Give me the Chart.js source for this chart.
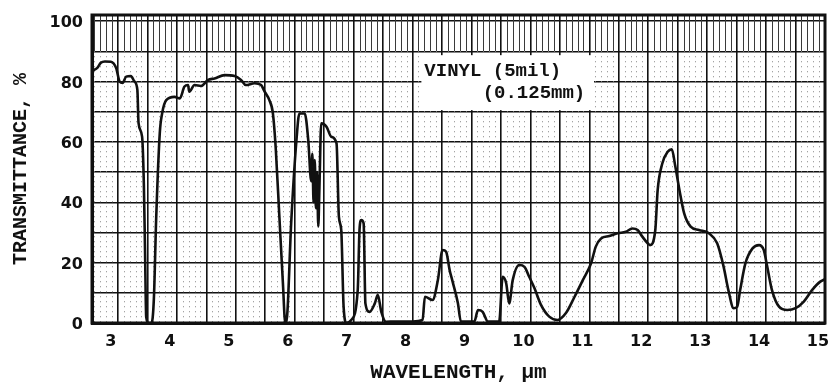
<!DOCTYPE html>
<html>
<head>
<meta charset="utf-8">
<script src="https://cdn.jsdelivr.net/npm/chart.js@4.4.1/dist/chart.umd.min.js"></script>
<style>
  html, body { margin: 0; padding: 0; background: #fff; }
  canvas { display: block; }
</style>
</head>
<body>
<canvas id="irChart" width="834" height="385"></canvas>
<script>
(function () {
    'use strict';

    // ── Spectrum trace: wavelength (µm) vs transmittance (%) ──────────────────
    const wavelengths = [
        2.56, 2.65, 2.71, 2.78, 2.88, 2.97, 3.03, 3.08, 3.14, 3.22, 3.28, 3.33,
        3.35, 3.41, 3.44, 3.46, 3.48, 3.52, 3.57, 3.61, 3.65, 3.71, 3.75, 3.82,
        3.96, 4.05, 4.13, 4.19, 4.21, 4.30, 4.41, 4.53, 4.64, 4.81, 4.98, 5.09,
        5.17, 5.32, 5.43, 5.49, 5.57, 5.63, 5.68, 5.74, 5.80, 5.84, 5.87, 5.94,
        6.03, 6.08, 6.17, 6.23, 6.28, 6.30, 6.32, 6.34, 6.36, 6.38, 6.40, 6.42,
        6.45, 6.54, 6.62, 6.71, 6.75, 6.79, 6.83, 6.88, 6.96, 7.07, 7.10, 7.13,
        7.17, 7.20, 7.27, 7.36, 7.41, 7.47, 7.55, 7.70, 8.00, 8.17, 8.21, 8.34,
        8.43, 8.51, 8.57, 8.63, 8.68, 8.77, 8.82, 9.05, 9.11, 9.19, 9.28, 9.47,
        9.53, 9.59, 9.64, 9.70, 9.81, 9.90, 9.98, 10.07, 10.18, 10.32, 10.46, 10.60,
        10.75, 10.89, 11.03, 11.11, 11.20, 11.34, 11.48, 11.62, 11.73, 11.82, 11.90, 11.99,
        12.03, 12.12, 12.16, 12.24, 12.33, 12.40, 12.46, 12.53, 12.61, 12.72, 12.86, 13.03,
        13.17, 13.28, 13.36, 13.45, 13.51, 13.56, 13.65, 13.77, 13.88, 13.96, 14.02, 14.10,
        14.22, 14.36, 14.50, 14.64, 14.78, 14.92, 15.00
    ];
    const transmittance = [
        83.5, 84.5, 86.2, 86.6, 86.5, 84.4, 79.9, 79.5, 81.6, 81.8, 80.0, 77.2,
        66.2, 61.7, 46.0, 24.0, 2.0, 0.0, 0.0, 8.0, 35.0, 62.8, 69.4, 73.8,
        74.9, 74.4, 78.3, 78.8, 76.6, 78.8, 78.5, 80.5, 81.0, 82.1, 81.8, 80.5,
        78.8, 79.4, 78.8, 76.6, 73.8, 69.4, 57.3, 35.2, 13.2, 0.0, 2.0, 33.0,
        60.6, 69.4, 69.4, 60.6, 47.0, 56.0, 40.0, 54.0, 38.0, 50.0, 32.0, 45.0,
        66.1, 65.0, 61.7, 59.5, 35.2, 30.8, 5.4, 0.0, 1.0, 11.0, 30.8, 34.1,
        33.0, 6.5, 3.7, 6.5, 9.3, 3.7, 0.4, 0.5, 0.5, 1.0, 8.7, 7.6,
        14.2, 24.2, 23.6, 17.5, 13.7, 6.5, 0.5, 0.5, 4.3, 3.7, 0.5, 0.5,
        15.3, 13.1, 6.5, 14.2, 19.2, 18.6, 15.3, 11.5, 6.0, 2.1, 1.0, 3.2,
        8.7, 14.2, 19.8, 25.3, 28.0, 28.8, 29.7, 30.2, 31.3, 30.8, 28.6, 26.4,
        25.8, 30.8, 44.0, 52.9, 56.7, 57.5, 51.8, 44.0, 36.3, 31.9, 30.8, 29.7,
        26.4, 18.6, 10.9, 4.9, 5.4, 10.9, 19.8, 24.7, 25.8, 24.2, 18.6, 10.9,
        5.4, 4.3, 4.9, 7.1, 10.9, 13.7, 14.5
    ];

    // ── Axis ticks ────────────────────────────────────────────────────────────
    const xGridTicks = [3, 3.5, 4, 4.5, 5, 5.5, 6, 6.5, 7, 7.5, 8, 8.5, 9, 9.5,
                        10, 10.5, 11, 11.5, 12, 12.5, 13, 13.5, 14, 14.5, 15];
    const yGridTicks = [0, 10, 20, 30, 40, 50, 60, 70, 80, 90, 100];

    const sampleLines = ['VINYL (5mil)', '(0.125mm)'];

    const INK = '#111';
    const monoBold = { family: '"Liberation Mono", "DejaVu Sans Mono", monospace', weight: 'bold' };

    // chart paper: fine rulings, dense header band, sample label, heavy frame
    const paperPlugin = {
        id: 'paper',
        beforeDatasetsDraw(chart) {
            const { ctx, chartArea: a, scales: { x, y } } = chart;
            const band = y.getPixelForValue(90);
            ctx.save();
            ctx.lineWidth = 1;
            for (let i = 26; i <= 150; i++) {
                if (i % 5 === 0) continue;
                const px = Math.round(x.getPixelForValue(i / 10)) + 0.5;
                if (px <= a.left + 1 || px >= a.right - 1) continue;
                ctx.setLineDash([]);
                ctx.strokeStyle = '#3a3a3a';
                ctx.beginPath();
                ctx.moveTo(px, a.top);
                ctx.lineTo(px, band);
                ctx.stroke();
                ctx.setLineDash([1, 4]);
                ctx.strokeStyle = '#888';
                ctx.beginPath();
                ctx.moveTo(px, band);
                ctx.lineTo(px, a.bottom);
                ctx.stroke();
            }
            ctx.setLineDash([]);

            // sample label panel
            const l = x.getPixelForValue(8.15), r = x.getPixelForValue(11.08);
            const t = y.getPixelForValue(88.7), b = y.getPixelForValue(70.5);
            ctx.fillStyle = '#fff';
            ctx.fillRect(l, t, r - l, b - t);
            ctx.fillStyle = INK;
            ctx.font = 'bold 19px ' + monoBold.family;
            ctx.textBaseline = 'alphabetic';
            ctx.textAlign = 'left';
            ctx.fillText(sampleLines[0], x.getPixelForValue(8.2), y.getPixelForValue(81.8));
            ctx.fillText(sampleLines[1], x.getPixelForValue(9.19), y.getPixelForValue(74.5));
            ctx.restore();
        },
        afterDatasetsDraw(chart) {
            const { ctx, chartArea: a } = chart;
            ctx.save();
            ctx.strokeStyle = INK;
            ctx.lineWidth = 3;
            ctx.strokeRect(a.left, a.top, a.right - a.left, a.bottom - a.top);
            ctx.restore();
        }
    };

    new Chart(document.getElementById('irChart'), {
        type: 'line',
        data: {
            datasets: [{
                data: wavelengths.map((w, i) => ({ x: w, y: transmittance[i] })),
                borderColor: INK,
                borderWidth: 2.6,
                pointRadius: 0,
                cubicInterpolationMode: 'monotone',
                fill: false,
            }]
        },
        options: {
            responsive: false,
            animation: false,
            layout: { padding: { top: 15, right: 9, bottom: 0, left: 0 } },
            plugins: {
                legend: { display: false },
                tooltip: { enabled: false },
            },
            scales: {
                x: {
                    type: 'linear',
                    min: 2.56,
                    max: 15,
                    afterFit: s => {
                        s.height = 62;
                        s.paddingLeft = 0;
                        s.paddingRight = 0;
                    },
                    afterBuildTicks: s => { s.ticks = xGridTicks.map(v => ({ value: v })); },
                    grid: { color: INK, lineWidth: 1.6, drawTicks: false },
                    border: { color: INK, width: 3 },
                    ticks: {
                        color: INK,
                        padding: 9,
                        labelOffset: -7,
                        maxRotation: 0,
                        autoSkip: false,
                        font: { family: '"DejaVu Sans", sans-serif', weight: 'bold', size: 16 },
                        callback: v => Number.isInteger(v) ? String(v) : ''
                    },
                    title: {
                        display: true,
                        text: 'WAVELENGTH, µm',
                        color: INK,
                        padding: { top: 0, bottom: 0 },
                        font: { ...monoBold, size: 21 },
                    }
                },
                y: {
                    min: 0,
                    max: 102,
                    afterFit: s => {
                        s.width = 92;
                        s.paddingTop = 0;
                        s.paddingBottom = 0;
                    },
                    afterBuildTicks: s => { s.ticks = yGridTicks.map(v => ({ value: v })); },
                    grid: { color: INK, lineWidth: 1.4, drawTicks: false },
                    border: { color: INK, width: 3 },
                    ticks: {
                        color: INK,
                        padding: 9,
                        labelOffset: 2,
                        autoSkip: false,
                        font: { family: '"DejaVu Sans", sans-serif', weight: 'bold', size: 16 },
                        callback: v => v % 20 === 0 ? String(v) : ''
                    },
                    title: {
                        display: true,
                        text: 'TRANSMITTANCE, %',
                        color: INK,
                        padding: { top: 9, bottom: 0 },
                        font: { ...monoBold, size: 20 },
                    }
                }
            }
        },
        plugins: [paperPlugin]
    });
})();
</script>
</body>
</html>
